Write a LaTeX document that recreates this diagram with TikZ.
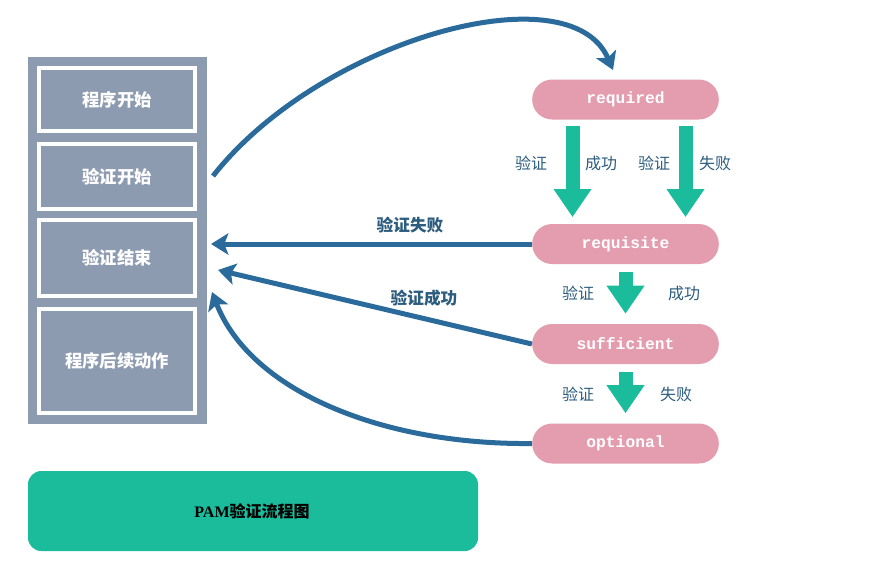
\documentclass[tikz,border=0pt]{standalone}
\usepackage{fontspec}
\setmainfont{Liberation Serif}
\setmonofont{Liberation Mono}
\newfontfamily\cjk{Noto Sans CJK SC}
\usetikzlibrary{arrows.meta}

\definecolor{panelgray}{HTML}{8D9BB0}
\definecolor{pillpink}{HTML}{E49CAF}
\definecolor{flowgreen}{HTML}{1ABC9C}
\definecolor{flowblue}{HTML}{2A6B9C}
\definecolor{labelblue}{HTML}{2C5C7E}

\tikzset{
  stagebox/.style={draw=white,line width=3pt,fill=panelgray,text=white,
    minimum width=117pt,font=\cjk\bfseries\fontsize{13}{15}\selectfont},
  pill/.style={fill=pillpink,text=white,rounded corners=15pt,
    minimum width=140pt,minimum height=30pt,font=\ttfamily\bfseries\fontsize{12.2}{14}\selectfont},
  greenarrow/.style={flowgreen,line width=10.5pt,-{Triangle[length=21pt,width=27pt]}},
  bluearrow/.style={flowblue,line width=3.75pt,-{Stealth[length=13pt,width=16pt,inset=3pt]}},
  steplabel/.style={text=labelblue,font=\cjk\fontsize{12}{14}\selectfont},
  arrowlabel/.style={text=labelblue,font=\cjk\bfseries\fontsize{12.5}{14}\selectfont}
}

\begin{document}
\begin{tikzpicture}[x=0.75pt,y=-0.75pt]
   \useasboundingbox (0,0) rectangle (887,572);

   \fill[panelgray] (28,57) rectangle (207,424);
   \node[stagebox,minimum height=47pt] (start) at (117,99.5) {程序开始};
   \node[stagebox,minimum height=49pt] (authstart) at (117,176.5) {验证开始};
   \node[stagebox,minimum height=57pt] (authend) at (117,258) {验证结束};
   \node[stagebox,minimum height=78pt] (after) at (117,361) {程序后续动作};

   \node[pill] (required) at (625.5,99.5) {required};
   \node[pill] (requisite) at (625.5,244) {requisite};
   \node[pill] (sufficient) at (625.5,344) {sufficient};
   \node[pill] (optional) at (625.5,443.5) {optional};

   \coordinate (authout) at (213,176);
   \coordinate (reqin) at (613,70);
   \coordinate (sucend) at (218,270);
   \coordinate (optend) at (212,292);

   \draw[greenarrow,shorten <=5pt,shorten >=5pt] ([xshift=-39.75pt]required.south) -- ([xshift=-39.75pt]requisite.north);
   \draw[greenarrow,shorten <=5pt,shorten >=5pt] ([xshift=45pt]required.south) -- ([xshift=45pt]requisite.north);
   \draw[greenarrow,shorten <=6pt,shorten >=7.5pt] (requisite.south) -- (sufficient.north);
   \draw[greenarrow,shorten <=6pt,shorten >=7.5pt] (sufficient.south) -- (optional.north);

   \node[steplabel] (l1) at (531,163) {验证};
   \node[steplabel] (l2) at (601,163) {成功};
   \node[steplabel] (l3) at (654,163) {验证};
   \node[steplabel] (l4) at (715,163) {失败};
   \node[steplabel] (l5) at (578,293) {验证};
   \node[steplabel] (l6) at (684,293) {成功};
   \node[steplabel] (l7) at (578,394) {验证};
   \node[steplabel] (l8) at (676,394) {失败};

   \draw[bluearrow] (authout) .. controls (320,40) and (570,-30) .. (reqin);
   \draw[bluearrow,shorten >=10.5pt] (requisite.west) -- (requisite.west -| authend.east);
   \draw[bluearrow] (sufficient.west) -- (sucend);
   \draw[bluearrow] (optional.west) .. controls (380,445) and (250,390) .. (optend);
   \node[arrowlabel] (fail) at (410,225) {验证失败};
   \node[arrowlabel] (ok) at (424,298) {验证成功};

   \fill[flowgreen,rounded corners=10pt] (28,471) rectangle (478,551);
   \node[font=\bfseries\fontsize{12}{14}\selectfont] (title) at (252,511) {PAM{\cjk 验证流程图}};
\end{tikzpicture}
\end{document}
